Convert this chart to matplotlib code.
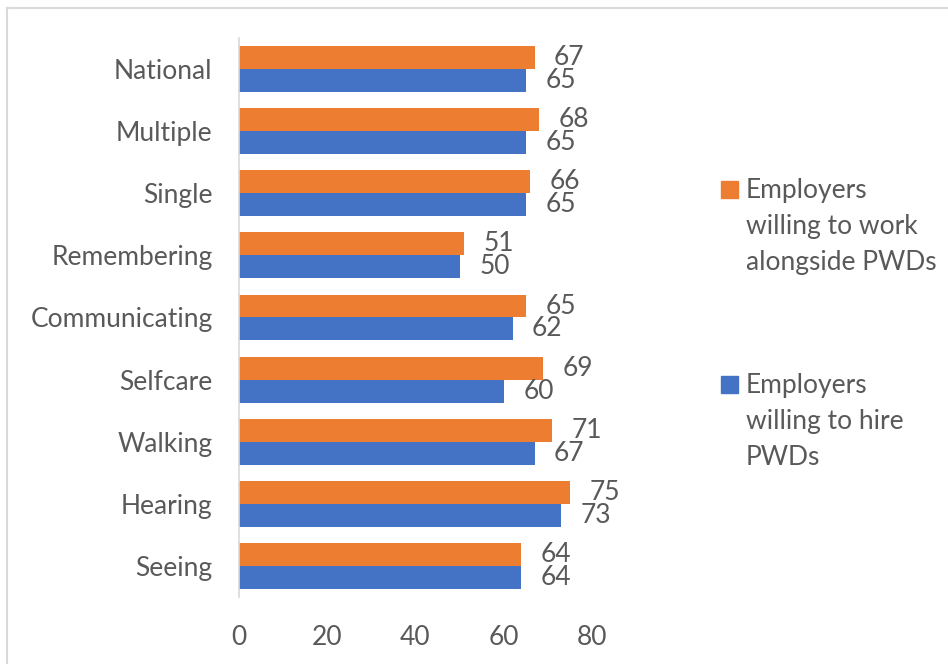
import matplotlib.pyplot as plt
from matplotlib.patches import Rectangle
from matplotlib.lines import Line2D
import numpy as np

plt.rcParams['font.family'] = ['Lato', 'DejaVu Sans']

# categories listed bottom to top
categorias = ["Seeing", "Hearing", "Walking", "Selfcare", "Communicating",
              "Remembering", "Single", "Multiple", "National"]
trabajar_junto = [64, 75, 71, 69, 65, 51, 66, 68, 67]
contratar = [64, 73, 67, 60, 62, 50, 65, 65, 65]
ticks_x = [0, 20, 40, 60, 80]

etiqueta_trabajar = "Employers\nwilling to work\nalongside PWDs"
etiqueta_contratar = "Employers\nwilling to hire\nPWDs"

naranja = "#ed7d31"
azul = "#4472c4"
gris = "#595959"
tam = 19

fig = plt.figure(figsize=(9.48, 6.64), dpi=100)
ax = fig.add_axes([0.2521, 0.1009, 0.3724, 0.8419])

y = np.arange(len(categorias))
alto = 0.37
b1 = ax.barh(y + alto / 2, trabajar_junto, height=alto, color=naranja)
b2 = ax.barh(y - alto / 2, contratar, height=alto, color=azul)

for barras, valores in ((b1, trabajar_junto), (b2, contratar)):
    for barra, v in zip(barras, valores):
        ax.annotate(str(v), (v, barra.get_y() + barra.get_height() / 2),
                    xytext=(14, 0), textcoords="offset points",
                    va="center", ha="left", fontsize=tam, color=gris)

ax.set_xlim(0, 80)
ax.set_ylim(-0.5, len(categorias) - 0.5)
ax.set_xticks(ticks_x)
ax.set_yticks(y)
ax.set_yticklabels(categorias)
ax.tick_params(axis="both", length=0, labelsize=tam, colors=gris)
ax.tick_params(axis="y", pad=19)
ax.tick_params(axis="x", pad=20)
for lado in ("top", "right", "bottom"):
    ax.spines[lado].set_visible(False)
ax.spines["left"].set_color("#d9d9d9")
ax.spines["left"].set_linewidth(1.2)

# legend drawn by hand so the swatch sits on the first line
for color, texto, ytop in ((naranja, etiqueta_trabajar, 181),
                           (azul, etiqueta_contratar, 376)):
    fig.patches.append(Rectangle((721 / 948, 1 - (ytop + 17) / 664), 17 / 948, 17 / 664,
                                 transform=fig.transFigure, color=color))
    fig.text(746 / 948, 1 - (ytop - 3) / 664, texto, ha="left", va="top",
             fontsize=tam, color=gris, linespacing=1.55)

# outer chart border
fig.add_artist(Line2D([6.5 / 948, 6.5 / 948], [0, 1 - 8 / 664],
                      transform=fig.transFigure, color="#d9d9d9", lw=1.5))
fig.add_artist(Line2D([6.5 / 948, 1], [1 - 8 / 664, 1 - 8 / 664],
                      transform=fig.transFigure, color="#d9d9d9", lw=1.5))

plt.savefig("out.png", dpi=100)
